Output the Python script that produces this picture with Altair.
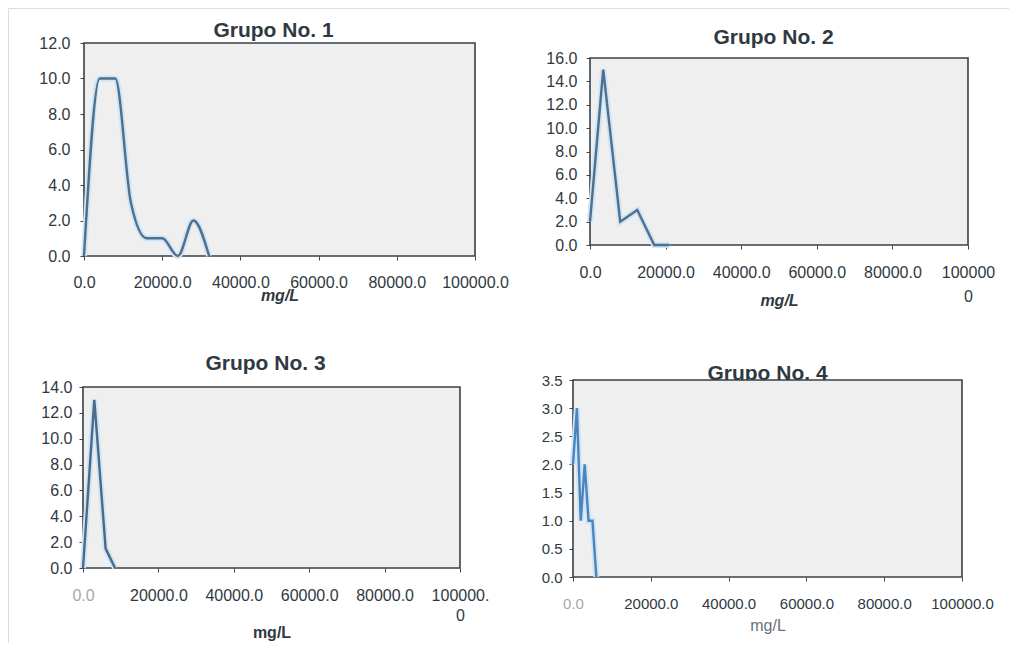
import altair as alt
import pandas as pd

# ---- data ----
g1_x = [0, 4000, 8000, 12000, 16000, 20000, 24000, 28000, 32000]
g1_y = [0, 10, 10, 3, 1, 1, 0, 2, 0]

g2_x = [0, 3500, 8000, 12500, 17000, 21000]
g2_y = [2, 15, 2, 3, 0, 0]

g3_x = [0, 3000, 6000, 8500]
g3_y = [0, 13, 1.5, 0]

g4_x = [0, 1000, 2000, 3000, 4000, 5000, 6000]
g4_y = [2, 3, 1, 2, 1, 1, 0]

titles = ["Grupo No. 1", "Grupo No. 2", "Grupo No. 3", "Grupo No. 4"]
x_ticks = [0, 20000, 40000, 60000, 80000, 100000]
y1_ticks = [0, 2, 4, 6, 8, 10, 12]
y2_ticks = [0, 2, 4, 6, 8, 10, 12, 14, 16]
y3_ticks = [0, 2, 4, 6, 8, 10, 12, 14]
y4_ticks = [0, 0.5, 1.0, 1.5, 2.0, 2.5, 3.0, 3.5]

FONT = "Liberation Sans"
TXT = "#2f3942"
W, H = 1001, 635  # drawing area (page minus 8px margin)


def panel(name, xs, ys, title, yticks, left, right, top, bottom, interp, line_color,
          title_x, title_y, lab_pad_y, lab_pad_x, lab_size, label_expr, xt_y,
          xt_style, xt_weight, xt_color, first_grey, line_h):
    df = pd.DataFrame({"x": xs, "y": ys})
    xs_scale = alt.Scale(domain=[x_ticks[0], x_ticks[-1]], range=[left, right], nice=False)
    ys_scale = alt.Scale(domain=[yticks[0], yticks[-1]], range=[bottom, top], nice=False)
    lab_color = TXT
    if first_grey:
        lab_color = {"condition": {"test": "datum.value === 0", "value": "#a9a9a9"},
                     "value": TXT}
    x_axis = alt.Axis(orient="bottom", offset=bottom - H, values=x_ticks,
                      labelExpr=label_expr, title="mg/L",
                      domain=False, grid=False, tickSize=4, tickColor="#444",
                      labelFont=FONT, labelFontSize=lab_size, labelColor=lab_color,
                      labelPadding=lab_pad_x, labelFlush=False, labelOverlap=False,
                      labelLineHeight=line_h,
                      titleFont=FONT, titleFontSize=16, titleFontStyle=xt_style,
                      titleFontWeight=xt_weight, titleColor=xt_color,
                      titleY=xt_y, titleBaseline="middle")
    y_axis = alt.Axis(orient="left", offset=-left, values=yticks, format=".1f",
                      title=None, domain=False, grid=False, tickSize=4,
                      tickColor="#444", labelFont=FONT, labelFontSize=lab_size,
                      labelColor=TXT, labelPadding=lab_pad_y)
    top_axis = alt.Axis(orient="top", offset=-top, labels=False, ticks=False,
                        domain=False, grid=False, title=title, titleFont=FONT,
                        titleFontSize=21, titleFontWeight="bold", titleColor=TXT,
                        titleX=title_x, titleY=title_y, titleBaseline="middle",
                        titleAnchor="middle")
    base = alt.Chart(df)
    frame = base.mark_rect(fill="#eeefee", stroke="#3a4046", strokeWidth=1.6).encode(
        x=alt.X("x:Q", scale=xs_scale, axis=top_axis, aggregate="min"),
        x2=alt.datum(x_ticks[-1]),
        y=alt.datum(yticks[0], scale=ys_scale, axis=None),
        y2=alt.datum(yticks[-1]),
    )
    halo = base.mark_line(color="#cfe4f5", strokeWidth=6, interpolate=interp).encode(
        x=alt.X("x:Q", scale=xs_scale, axis=None),
        y=alt.Y("y:Q", scale=ys_scale, axis=None),
    )
    line = base.mark_line(color=line_color, strokeWidth=2.4, interpolate=interp).encode(
        x=alt.X("x:Q", scale=xs_scale, axis=x_axis),
        y=alt.Y("y:Q", scale=ys_scale, axis=y_axis),
    )
    return alt.layer(frame, halo, line).resolve_axis(x="independent", y="independent")


fmt = "format(datum.value, '.1f')"
p1 = panel("a", g1_x, g1_y, titles[0], y1_ticks, 76, 467, 35, 248, "monotone", "#4f6f8f",
           265, -13, 10, 14, 16, fmt, 39, "italic", "bold", TXT, False, 20)
p2 = panel("b", g2_x, g2_y, titles[1], y2_ticks, 582, 960, 50, 237, "linear", "#4f6f8f",
           765, -21, 9, 15, 16, "datum.value == 100000 ? ['100000', '0'] : " + fmt, 55,
           "italic", "bold", TXT, False, 24)
p3 = panel("c", g3_x, g3_y, titles[2], y3_ticks, 75, 452, 379, 560, "linear", "#4a6a8a",
           257, -24, 7, 15, 16, "datum.value == 100000 ? ['100000.', '0'] : " + fmt, 64,
           "normal", "bold", TXT, True, 20)
p4 = panel("d", g4_x, g4_y, titles[3], y4_ticks, 565, 954, 372, 569, "linear", "#4a86bd",
           759, -7, 7, 15, 15, fmt, 48, "normal", "normal", "#6b7178", True, 20)

chart = alt.layer(p1, p2, p3, p4).resolve_scale(
    x="independent", y="independent"
).resolve_axis(
    x="independent", y="independent"
).properties(
    width=W, height=H, padding=0,
    autosize=alt.AutoSizeParams(type="none"),
).configure_view(strokeOpacity=0).configure(background="white")

chart.save("out.html", embed_options={"renderer": "svg", "actions": False})
